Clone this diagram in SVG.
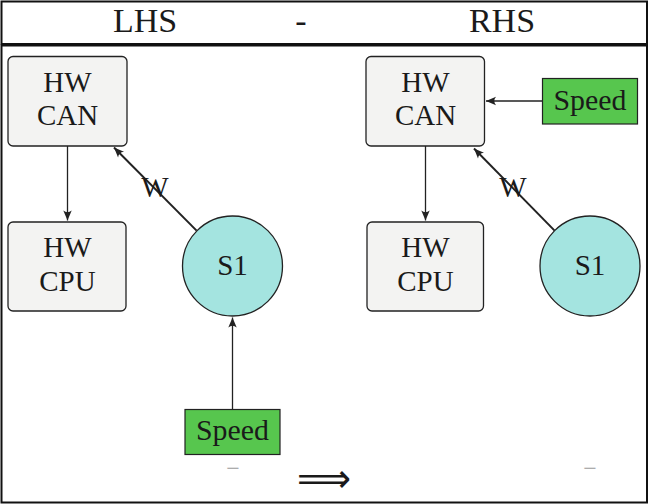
<svg xmlns="http://www.w3.org/2000/svg" width="650" height="504" viewBox="0 0 650 504">
<defs>
<style>
text{font-family:"Liberation Serif","Times New Roman",serif;fill:#1a1a1a}
.hdr{font-size:34px;text-anchor:middle}
.lbl{font-size:29px;text-anchor:middle}
.hw{fill:#f3f3f2;stroke:#222;stroke-width:1.3}
.s1{fill:#a4e4e0;stroke:#222;stroke-width:1.3}
.sp{fill:#57c64e;stroke:#222;stroke-width:1.2}
.edge{fill:none;stroke:#222;stroke-width:1.3}
.thick{stroke-width:2}
.frame{fill:none;stroke:#111;stroke-width:2}
.minus{font-size:24px;fill:#999;text-anchor:middle}
</style>
<marker id="ah" viewBox="-11 -5 12 10" refX="0" refY="0" markerWidth="12" markerHeight="10" orient="auto" markerUnits="userSpaceOnUse">
<path d="M0,0 L-10,-4.2 Q-6.5,0 -10,4.2 Z" fill="#222"/>
</marker>
</defs>
<g id="frame">
<rect class="frame" x="1.5" y="1.5" width="645.5" height="42.5"/>
<rect class="frame" x="1.5" y="45.5" width="645.5" height="457"/>
</g>
<g id="header">
<text class="hdr" x="145" y="32">LHS</text>
<text class="hdr" x="301" y="32">-</text>
<text class="hdr" x="502" y="32">RHS</text>
</g>
<g id="connectors">
<line class="edge" x1="67.5" y1="146" x2="67.5" y2="220.5" marker-end="url(#ah)"/>
<line class="edge thick" x1="196.6" y1="230.6" x2="114" y2="147.5" marker-end="url(#ah)"/>
<line class="edge" x1="232.5" y1="409" x2="232.5" y2="317.5" marker-end="url(#ah)"/>
<line class="edge" x1="425.5" y1="146" x2="425.5" y2="220.5" marker-end="url(#ah)"/>
<line class="edge thick" x1="554.6" y1="230.6" x2="474" y2="148.5" marker-end="url(#ah)"/>
<line class="edge" x1="542.5" y1="101" x2="486" y2="101" marker-end="url(#ah)"/>
<text class="lbl" x="155" y="197">W</text>
<text class="lbl" x="513" y="197">W</text>
</g>
<g id="lhs-hwcan">
<rect class="hw" x="8" y="56.5" width="119" height="89.5" rx="5"/>
<text class="lbl" x="67.5" y="92">HW</text>
<text class="lbl" x="67.5" y="125">CAN</text>
</g>
<g id="lhs-hwcpu">
<rect class="hw" x="8" y="222" width="118" height="89" rx="5"/>
<text class="lbl" x="67.5" y="257">HW</text>
<text class="lbl" x="67.5" y="290.5">CPU</text>
</g>
<g id="lhs-s1">
<circle class="s1" cx="232.5" cy="266" r="50"/>
<text class="lbl" x="232.5" y="274.5">S1</text>
</g>
<g id="lhs-speed">
<rect class="sp" x="185" y="409.5" width="95" height="45"/>
<text class="lbl" x="232.5" y="440" textLength="73" lengthAdjust="spacingAndGlyphs">Speed</text>
</g>
<g id="rhs-hwcan">
<rect class="hw" x="366" y="56.5" width="118.5" height="89.5" rx="5"/>
<text class="lbl" x="425.5" y="92">HW</text>
<text class="lbl" x="425.5" y="125">CAN</text>
</g>
<g id="rhs-hwcpu">
<rect class="hw" x="367" y="222" width="116.5" height="89" rx="5"/>
<text class="lbl" x="425.5" y="257">HW</text>
<text class="lbl" x="425.5" y="290.5">CPU</text>
</g>
<g id="rhs-s1">
<circle class="s1" cx="590" cy="266" r="50"/>
<text class="lbl" x="590" y="274.5">S1</text>
</g>
<g id="rhs-speed">
<rect class="sp" x="542.5" y="78.5" width="95" height="45.5"/>
<text class="lbl" x="590" y="109.5" textLength="73" lengthAdjust="spacingAndGlyphs">Speed</text>
</g>
<g id="footer">
<text class="minus" x="233" y="476">−</text>
<text class="minus" x="590" y="476">−</text>
<text x="324" y="492" style="font-family:'DejaVu Sans',sans-serif;font-size:40px;text-anchor:middle" textLength="54" lengthAdjust="spacingAndGlyphs">⟹</text>
</g>
</svg>
